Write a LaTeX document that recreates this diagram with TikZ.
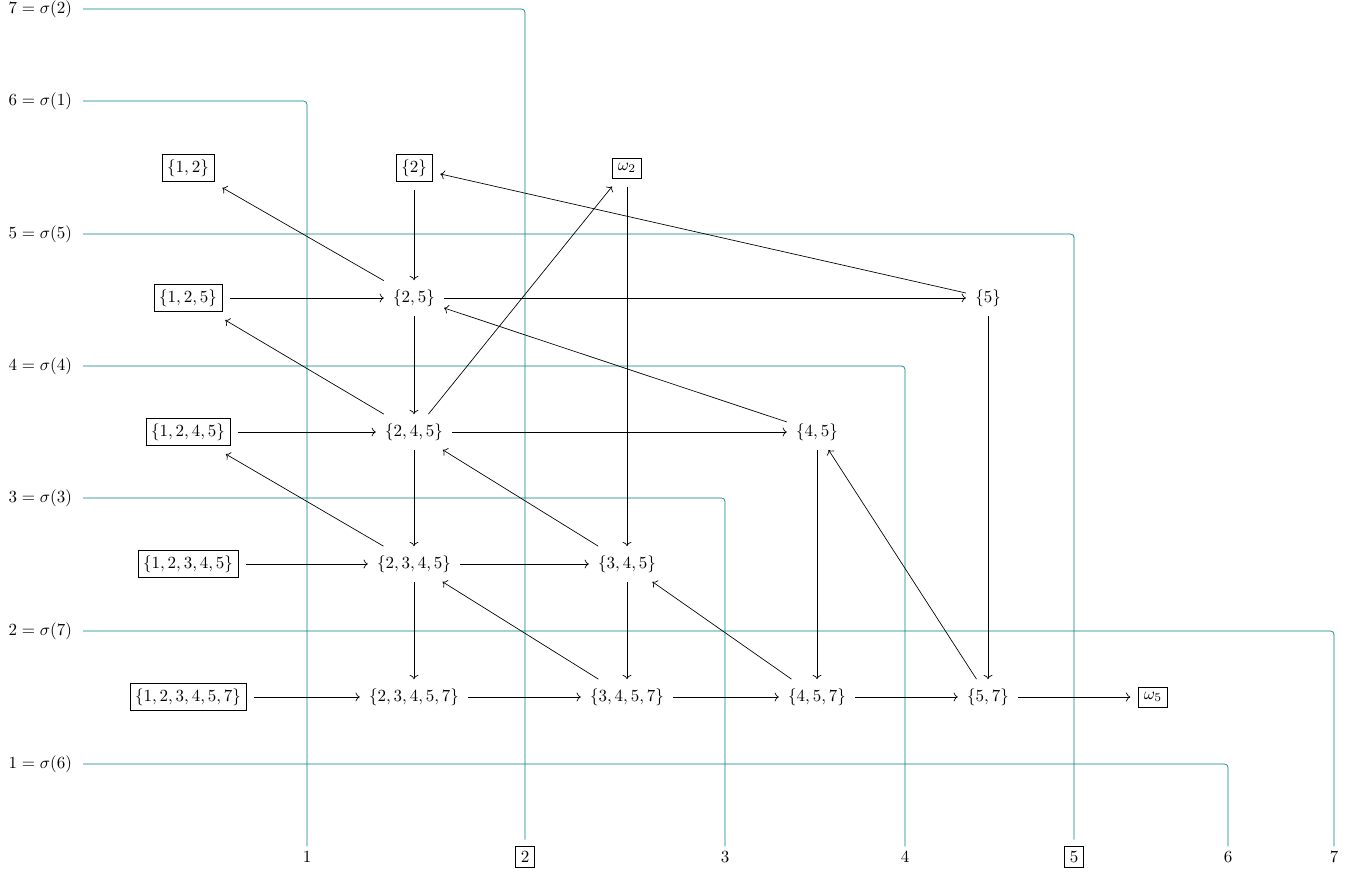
\documentclass[tikz,border=0pt]{standalone}
\usepackage{amsmath,amssymb}
\usepackage{tikz}
\usetikzlibrary{arrows.meta}
\tikzset{
    every node/.style={inner sep=3pt, outer sep=2.5pt}
}
\tikzset{bset/.style={draw, outer sep=5pt}}
\tikzset{wire/.style={teal, rounded corners=2pt}}
\tikzset{ylab/.style={anchor=east, outer sep=0pt, inner xsep=6.5pt}}
\tikzset{xlab/.style={outer sep=0pt}}

\begin{document}
\begin{tikzpicture}[x=0.02067cm, y=-0.02067cm, >={Computer Modern Rightarrow}]
    \useasboundingbox (0,0) rectangle (1364,873);

    % the permutation sigma
    \node (l7) [ylab] at (83,9) {$7=\sigma(2)$};
    \node (l6) [ylab] at (83,101) {$6=\sigma(1)$};
    \node (l5) [ylab] at (83,234) {$5=\sigma(5)$};
    \node (l4) [ylab] at (83,366) {$4=\sigma(4)$};
    \node (l3) [ylab] at (83,498) {$3=\sigma(3)$};
    \node (l2) [ylab] at (83,631) {$2=\sigma(7)$};
    \node (l1) [ylab] at (83,764) {$1=\sigma(6)$};

    \node (x1) [xlab] at (307,857) {$1$};
    \node (x2) [xlab, draw, outer sep=4pt] at (525,857) {$2$};
    \node (x3) [xlab] at (725,857) {$3$};
    \node (x4) [xlab] at (905,857) {$4$};
    \node (x5) [xlab, draw, outer sep=4pt] at (1074,857) {$5$};
    \node (x6) [xlab] at (1228,857) {$6$};
    \node (x7) [xlab] at (1334,857) {$7$};

    \draw [wire] (l7.east) -| (x2.north);
    \draw [wire] (l6.east) -| (x1.north);
    \draw [wire] (l5.east) -| (x5.north);
    \draw [wire] (l4.east) -| (x4.north);
    \draw [wire] (l3.east) -| (x3.north);
    \draw [wire] (l2.east) -| (x7.north);
    \draw [wire] (l1.east) -| (x6.north);

    % the sets
    \node (b12) [bset] at (188,168) {$\{1,2\}$};
    \node (b2) [bset] at (414,168) {$\{2\}$};
    \node (w2) [bset] at (627,168) {$\omega_2$};
    \node (b125) [bset] at (188,298) {$\{1,2,5\}$};
    \node (s25) at (414,298) {$\{2,5\}$};
    \node (s5) at (988,298) {$\{5\}$};
    \node (b1245) [bset] at (188,432) {$\{1,2,4,5\}$};
    \node (s245) at (414,432) {$\{2,4,5\}$};
    \node (s45) at (817,432) {$\{4,5\}$};
    \node (b12345) [bset] at (188,564) {$\{1,2,3,4,5\}$};
    \node (s2345) at (414,564) {$\{2,3,4,5\}$};
    \node (s345) at (627,564) {$\{3,4,5\}$};
    \node (b123457) [bset] at (188,697) {$\{1,2,3,4,5,7\}$};
    \node (s23457) at (414,697) {$\{2,3,4,5,7\}$};
    \node (s3457) at (627,697) {$\{3,4,5,7\}$};
    \node (s457) at (817,697) {$\{4,5,7\}$};
    \node (s57) at (988,697) {$\{5,7\}$};
    \node (w5) [bset] at (1153,697) {$\omega_5$};

  \draw (b2) edge [->] (s25);
  \draw (s25) edge [->] (b12);
  \draw (b125) edge [->] (s25);
  \draw (s25) edge [->] (s5);
  \draw (s5) edge [->] (b2);
  \draw (s25) edge [->] (s245);
  \draw (s245) edge [->] (b125);
  \draw (b1245) edge [->] (s245);
  \draw (s245) edge [->] (w2);
  \draw (s245) edge [->] (s45);
  \draw (s45) edge [->] (s25);
  \draw (s245) edge [->] (s2345);
  \draw (s2345) edge [->] (b1245);
  \draw (b12345) edge [->] (s2345);
  \draw (s2345) edge [->] (s345);
  \draw (s345) edge [->] (s245);
  \draw (w2) edge [->] (s345);
  \draw (s2345) edge [->] (s23457);
  \draw (b123457) edge [->] (s23457);
  \draw (s23457) edge [->] (s3457);
  \draw (s3457) edge [->] (s2345);
  \draw (s345) edge [->] (s3457);
  \draw (s3457) edge [->] (s457);
  \draw (s457) edge [->] (s345);
  \draw (s45) edge [->] (s457);
  \draw (s457) edge [->] (s57);
  \draw (s57) edge [->] (s45);
  \draw (s5) edge [->] (s57);
  \draw (s57) edge [->] (w5);
\end{tikzpicture}
\end{document}
